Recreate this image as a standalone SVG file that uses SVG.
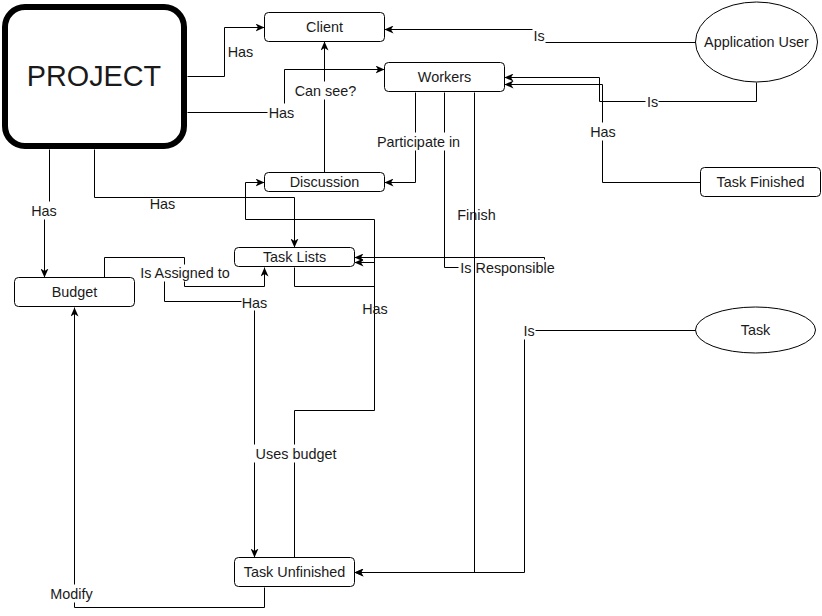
<svg xmlns="http://www.w3.org/2000/svg" width="822" height="616" viewBox="0 0 822 616">
<defs>
<marker id="arr" markerUnits="userSpaceOnUse" viewBox="0 0 9 8" markerWidth="9" markerHeight="8" refX="9" refY="4" orient="auto">
<path d="M0,0 L9,4 L0,8 L2.5,4 Z" fill="#000"/>
</marker>
<style>
.e{fill:none;stroke:#000;stroke-width:1}
.a{marker-end:url(#arr)}
.n{fill:#fff;stroke:#000;stroke-width:1}
.t{font-family:"Liberation Sans",Arial,sans-serif;font-size:14.4px;fill:#1a1a1a;text-anchor:middle;dominant-baseline:central}
.bg{fill:#fff}
</style>
</defs>
<rect width="822" height="616" fill="#fff"/>
<g id="connectors" transform="translate(0.5,0.5)">
<path class="e a" d="M187,76 H224 V27 H264"/>
<path class="e a" d="M187,112 H284 V69 H384"/>
<path class="e a" d="M324,172 V41"/>
<path class="e a" d="M415,92 V182 H384"/>
<path class="e a" d="M695,42 H538 V29 H384"/>
<path class="e a" d="M756,82 V101 H599 V77 H504"/>
<path class="e a" d="M700,182 H602 V84 H504"/>
<path class="e a" d="M49,149 V210 H44 V277"/>
<path class="e a" d="M94,149 V197 H294 V247"/>
<path class="e a" d="M294,267 V286 H374 V219 H245 V182 H264"/>
<path class="e a" d="M294,557 V410 H374 V262 H354"/>
<path class="e a" d="M104,277 V257 H184 V286 H264 V267"/>
<path class="e a" d="M164,280 V301 H254 V557"/>
<path class="e a" d="M444,92 V267 H544 V257 H354"/>
<path class="e a" d="M695,330 H524 V572 H354"/>
<path class="e a" d="M264,587 V607 H74 V307"/>
<g id="labels">
<text class="t" x="240" y="51">Has</text>
<rect class="bg" x="267" y="103" width="29" height="18"/><text class="t" x="281" y="112">Has</text>
<rect class="bg" x="292" y="81" width="66" height="18"/><text class="t" x="325" y="90">Can see?</text>
<rect class="bg" x="376" y="132" width="85" height="18"/><text class="t" x="418" y="141">Participate in</text>
<rect class="bg" x="532" y="27" width="13" height="17"/><text class="t" x="538.5" y="35.5">Is</text>
<rect class="bg" x="645" y="93" width="13" height="17"/><text class="t" x="652" y="101">Is</text>
<rect class="bg" x="589" y="122" width="28" height="18"/><text class="t" x="602.5" y="131">Has</text>
<rect class="bg" x="30" y="201" width="28" height="18"/><text class="t" x="43.5" y="210">Has</text>
<text class="t" x="162" y="203">Has</text>
<rect class="bg" x="137" y="264" width="95" height="17"/><text class="t" x="184.5" y="272">Is Assigned to</text>
<rect class="bg" x="241" y="293" width="27" height="17"/><text class="t" x="254" y="302">Has</text>
<text class="t" x="374.5" y="308">Has</text>
<rect class="bg" x="253" y="444" width="85" height="18"/><text class="t" x="295.5" y="453">Uses budget</text>
<rect class="bg" x="458" y="259" width="98" height="17"/><text class="t" x="507" y="267">Is Responsible</text>
<rect class="bg" x="522" y="321" width="13" height="18"/><text class="t" x="528.5" y="330">Is</text>
<rect class="bg" x="49" y="584" width="45" height="18"/><text class="t" x="71" y="593">Modify</text>
<text class="t" x="476" y="214">Finish</text>
</g>
<path class="e a" d="M474,92 V572 H354"/>
</g>
<g id="node-project"><rect class="n" x="5" y="7" width="179" height="139" rx="20" ry="20" stroke-width="6" style="stroke-width:6"/><text class="t" x="94" y="76" style="font-size:28.8px">PROJECT</text></g>
<g id="node-client"><rect class="n" x="264.5" y="12.5" width="120" height="29" rx="4"/><text class="t" x="324.5" y="27">Client</text></g>
<g id="node-workers"><rect class="n" x="384.5" y="62.5" width="120" height="29" rx="4"/><text class="t" x="444.5" y="77">Workers</text></g>
<g id="node-discussion"><rect class="n" x="264.5" y="172.5" width="120" height="19" rx="4"/><text class="t" x="324.5" y="182">Discussion</text></g>
<g id="node-tasklists"><rect class="n" x="234.5" y="247.5" width="120" height="19" rx="4"/><text class="t" x="294.5" y="257">Task Lists</text></g>
<g id="node-budget"><rect class="n" x="14.5" y="277.5" width="120" height="29" rx="4"/><text class="t" x="74.5" y="292">Budget</text></g>
<g id="node-taskunfinished"><rect class="n" x="234.5" y="557.5" width="120" height="29" rx="4"/><text class="t" x="294.5" y="572">Task Unfinished</text></g>
<g id="node-taskfinished"><rect class="n" x="700.5" y="167.5" width="120" height="29" rx="4"/><text class="t" x="760.5" y="182">Task Finished</text></g>
<g id="node-appuser"><ellipse class="n" cx="756.5" cy="42" rx="61" ry="40"/><text class="t" x="756.5" y="42">Application User</text></g>
<g id="node-task"><ellipse class="n" cx="755.5" cy="330" rx="60" ry="23"/><text class="t" x="755.5" y="330">Task</text></g>
</svg>
